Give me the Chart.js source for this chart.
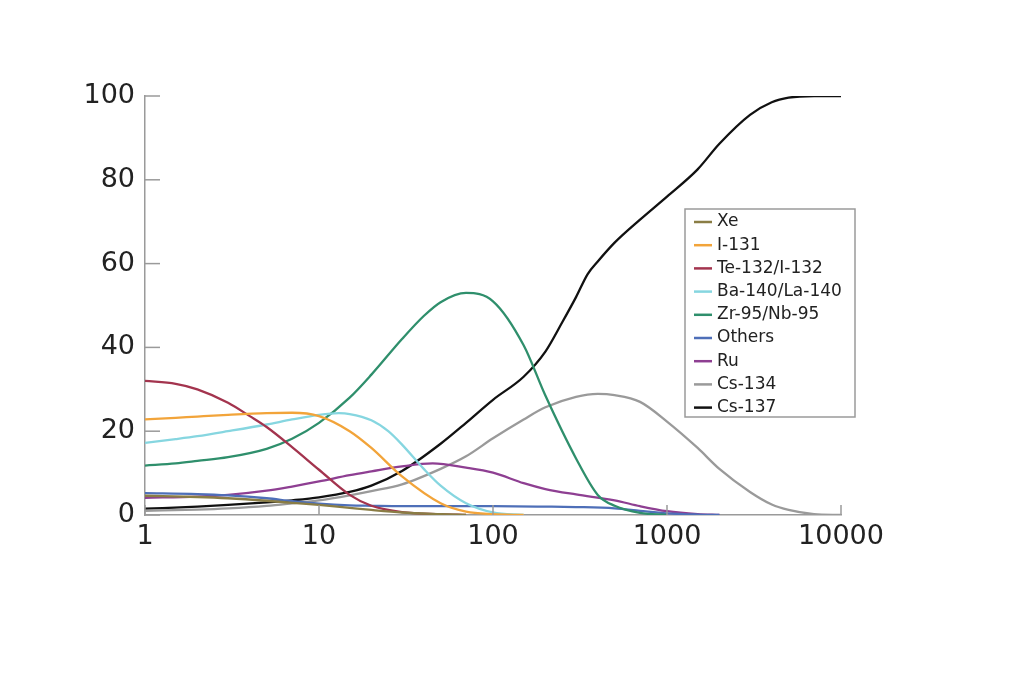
<!DOCTYPE html>
<html>
<head>
<meta charset="utf-8">
<script src="https://cdn.jsdelivr.net/npm/chart.js@4.4.1/dist/chart.umd.min.js"></script>
<style>
  html, body { margin: 0; padding: 0; background: #ffffff; }
  #wrap { width: 1024px; height: 684px; position: relative; }
</style>
</head>
<body>
<div id="wrap"><canvas id="c"></canvas></div>
<script>
// ---- Data (time in days, share in %) ----
const seriesNames = ["Xe", "I-131", "Te-132/I-132", "Ba-140/La-140", "Zr-95/Nb-95", "Others", "Ru", "Cs-134", "Cs-137"];
const xTickValues = [1, 10, 100, 1000, 10000];
const yTickValues = [0, 20, 40, 60, 80, 100];

const xeDays   = [1, 2, 3, 5, 7, 10, 15, 20, 30, 50, 70];
const xeValues = [4.6, 4.3, 4.0, 3.4, 2.9, 2.4, 1.7, 1.2, 0.6, 0.2, 0];

const i131Days   = [1, 1.5, 2, 3, 5, 7, 10, 15, 20, 30, 50, 70, 100, 150];
const i131Values = [22.8, 23.2, 23.5, 23.9, 24.3, 24.4, 23.6, 20, 16, 9.2, 2.8, 0.8, 0.2, 0];

const teDays   = [1, 1.5, 2, 3, 4, 5, 7, 10, 15, 20, 30, 50, 70];
const teValues = [32, 31.3, 30, 26.8, 23.6, 21, 16.2, 10.8, 4.8, 2.2, 0.7, 0.2, 0];

const baDays   = [1, 1.5, 2, 3, 5, 7, 10, 13, 15, 20, 25, 30, 40, 50, 70, 100, 150];
const baValues = [17.2, 18.1, 18.8, 20, 21.6, 22.8, 23.9, 24.3, 24.1, 22.6, 20, 16.8, 11, 7, 2.8, 0.6, 0];

const zrDays   = [1, 1.5, 2, 3, 5, 7, 10, 15, 20, 30, 40, 50, 70, 100, 150, 200, 300, 400, 500, 700, 1000];
const zrValues = [11.8, 12.3, 12.9, 13.8, 15.8, 18.2, 22, 28, 33.5, 42, 47.5, 50.8, 53, 51, 40.5, 28.5, 13.5, 4.8, 2.2, 0.5, 0];

const othersDays   = [1, 2, 3, 5, 7, 10, 15, 20, 30, 50, 100, 200, 300, 500, 700, 1000, 1500, 2000];
const othersValues = [5.2, 5, 4.7, 4, 3.3, 2.7, 2.3, 2.2, 2.1, 2.1, 2.1, 2.0, 1.9, 1.6, 1.0, 0.4, 0.1, 0];

const ruDays   = [1, 2, 3, 5, 7, 10, 15, 20, 30, 45, 70, 100, 150, 200, 300, 500, 700, 1000, 1500, 2000];
const ruValues = [4.1, 4.4, 4.8, 5.8, 6.8, 8, 9.5, 10.4, 11.6, 12.3, 11.3, 10.1, 7.6, 6.2, 4.9, 3.5, 2.1, 0.9, 0.2, 0];

const cs134Days   = [1, 2, 3, 5, 7, 10, 15, 20, 30, 50, 70, 100, 150, 200, 300, 400, 500, 700, 1000, 1500, 2000, 3000, 4000, 5000, 7000, 10000];
const cs134Values = [1, 1.3, 1.6, 2.2, 2.8, 3.5, 4.7, 5.7, 7.3, 11, 14, 18.3, 22.8, 25.7, 28.2, 28.9, 28.6, 27, 22.3, 16, 11, 5.5, 2.5, 1.2, 0.2, 0];

const cs137Days   = [1, 2, 3, 5, 7, 10, 15, 20, 30, 50, 70, 100, 150, 200, 250, 300, 350, 400, 500, 700, 1000, 1500, 2000, 3000, 4000, 5000, 7000, 10000];
const cs137Values = [1.5, 2, 2.4, 3, 3.5, 4.2, 5.5, 7, 10.5, 17, 22, 27.5, 33, 39, 46, 52, 57.5, 60.5, 65, 70.5, 76, 82.5, 88.6, 95.5, 98.5, 99.6, 100, 100];

const seriesDays   = [xeDays, i131Days, teDays, baDays, zrDays, othersDays, ruDays, cs134Days, cs137Days];
const seriesValues = [xeValues, i131Values, teValues, baValues, zrValues, othersValues, ruValues, cs134Values, cs137Values];

// ---- Styles ----
const seriesColors = ["#8a7d45", "#f2a43a", "#a3344e", "#86d6e0", "#2f8f6c", "#4e6fb8", "#8e3f92", "#9a9a9a", "#111111"];
const FONT = '"DejaVu Sans", "Liberation Sans", sans-serif';
const AXIS_COLOR = "#9a9a9a";

const datasets = seriesNames.map((name, i) => ({
  label: name,
  data: seriesDays[i].map((d, k) => ({ x: d, y: seriesValues[i][k] })),
  borderColor: seriesColors[i],
  backgroundColor: seriesColors[i],
  borderWidth: 2.3,
  pointRadius: 0,
  fill: false,
  cubicInterpolationMode: "monotone"
}));

const inwardTicks = {
  id: "inwardTicks",
  afterDraw(chart) {
    const { ctx, chartArea } = chart;
    const xs = chart.scales.x, ys = chart.scales.y;
    ctx.save();
    ctx.strokeStyle = AXIS_COLOR;
    ctx.lineWidth = 1.5;
    yTickValues.forEach(v => {
      const py = ys.getPixelForValue(v);
      ctx.beginPath();
      ctx.moveTo(chartArea.left, py);
      ctx.lineTo(chartArea.left + 15, py);
      ctx.stroke();
    });
    xTickValues.forEach(v => {
      const px = xs.getPixelForValue(v);
      ctx.beginPath();
      ctx.moveTo(px, chartArea.bottom);
      ctx.lineTo(px, chartArea.bottom - 10);
      ctx.stroke();
    });
    ctx.restore();
  }
};

const boxLegend = {
  id: "boxLegend",
  afterDraw(chart) {
    const { ctx, chartArea } = chart;
    const x0 = chartArea.right - 156, y0 = chartArea.top + 113, w = 170, h = 208;
    ctx.save();
    ctx.fillStyle = "#ffffff";
    ctx.fillRect(x0, y0, w, h);
    ctx.strokeStyle = AXIS_COLOR;
    ctx.lineWidth = 1.5;
    ctx.strokeRect(x0, y0, w, h);
    ctx.font = "17px " + FONT;
    ctx.textBaseline = "middle";
    ctx.textAlign = "left";
    chart.data.datasets.forEach((ds, i) => {
      const y = y0 + 13 + i * 23.2;
      ctx.strokeStyle = ds.borderColor;
      ctx.lineWidth = 2.5;
      ctx.beginPath();
      ctx.moveTo(x0 + 9, y);
      ctx.lineTo(x0 + 27, y);
      ctx.stroke();
      ctx.fillStyle = "#222222";
      ctx.fillText(ds.label, x0 + 32, y);
    });
    ctx.restore();
  }
};

new Chart(document.getElementById("c"), {
  type: "line",
  data: { datasets },
  plugins: [inwardTicks, boxLegend],
  options: {
    responsive: true,
    maintainAspectRatio: false,
    animation: false,
    layout: { padding: { left: 0, right: 183, top: 96, bottom: 109 } },
    plugins: { legend: { display: false }, tooltip: { enabled: false }, title: { display: false } },
    scales: {
      x: {
        type: "logarithmic",
        min: 1,
        max: 10000,
        afterBuildTicks(scale) { scale.ticks = xTickValues.map(v => ({ value: v, major: true })); },
        afterFit(scale) { scale.height = 60; },
        grid: { display: false },
        border: { display: true, color: AXIS_COLOR, width: 1.5 },
        ticks: {
          autoSkip: false, maxRotation: 0, padding: -2,
          color: "#222222",
          font: { family: FONT, size: 27 },
          callback: v => String(v)
        }
      },
      y: {
        type: "linear",
        min: 0,
        max: 100,
        afterBuildTicks(scale) { scale.ticks = yTickValues.map(v => ({ value: v })); },
        afterFit(scale) { scale.width = 145; },
        grid: { display: false },
        border: { display: true, color: AXIS_COLOR, width: 1.5 },
        ticks: {
          padding: 2,
          color: "#222222",
          font: { family: FONT, size: 27 },
          callback: v => String(v)
        }
      }
    }
  }
});
</script>
</body>
</html>
